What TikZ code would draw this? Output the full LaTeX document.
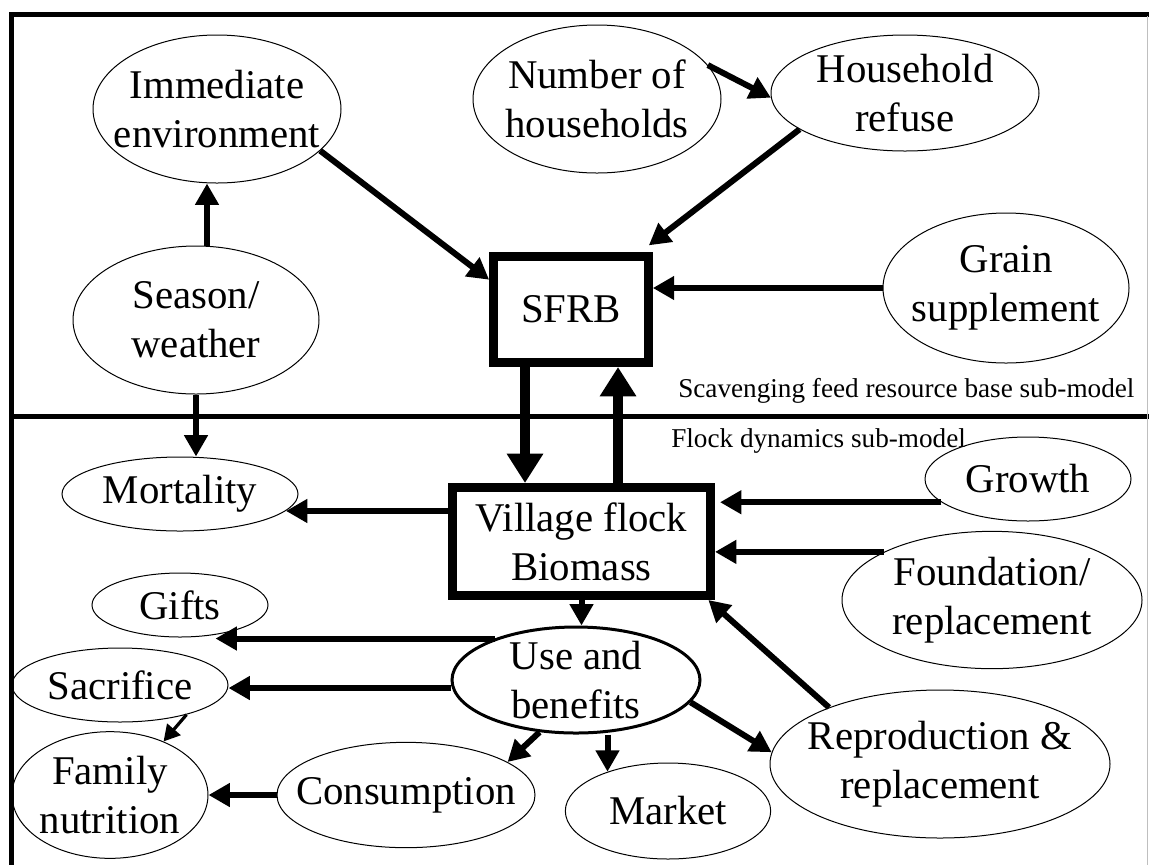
\documentclass[tikz,border=0pt]{standalone}
\usepackage{fontspec}
\setmainfont{Liberation Serif}
\usetikzlibrary{shapes.geometric,arrows.meta,calc}
\begin{document}
\begin{tikzpicture}[x=0.75pt,y=-0.75pt,
  every node/.style={font=\fontsize{30.6}{37}\selectfont, align=center, inner sep=0pt},
  ell/.style={draw, ellipse, line width=0.75pt, inner sep=-40pt},
  box/.style={draw, rectangle, line width=6.75pt},
  arr/.style={line width=4.5pt, -{Triangle[length=16pt,width=17pt]}},
  bigarr/.style={line width=7.5pt, -{Triangle[length=22pt,width=26pt]}},
  thinarr/.style={line width=2.4pt, -{Triangle[length=12pt,width=13pt]}},
  small/.style={font=\fontsize{20.4}{24}\selectfont},
  frame/.style={line width=3.75pt}
]
\useasboundingbox (0,0) rectangle (1149,865);

% frame
\draw[frame] (9.5,14) -- (1149,14);
\draw[frame] (11.5,12) -- (11.5,865);
\draw[frame] (11.5,416) -- (1149,416);
\draw[black!25, line width=0.75pt] (1147.5,16) -- (1147.5,865);

% nodes
\node[ell, minimum width=186pt, minimum height=111pt] (imm) at (217,109) {Immediate\\environment};
\node[ell, minimum width=186pt, minimum height=111pt] (num) at (597,99) {Number of\\households};
\node[ell, minimum width=201pt, minimum height=87pt] (ref) at (905,93) {Household\\refuse};
\node[ell, minimum width=184.5pt, minimum height=112.5pt] (grain) at (1006,288) {Grain\\supplement};
\node[ell, minimum width=184.5pt, minimum height=111pt] (season) at (196,320) {Season/\\weather};
\node[box, minimum width=116pt, minimum height=79.5pt] (sfrb) at (571,309.5) {SFRB};
\node[box, minimum width=193.5pt, minimum height=81pt] (village) at (581.5,541.5) {Village flock\\Biomass};
\node[ell, minimum width=177pt, minimum height=55.5pt] (mort) at (180,494) {Mortality};
\node[ell, minimum width=154.5pt, minimum height=63pt] (growth) at (1028,479) {Growth};
\node[ell, minimum width=225pt, minimum height=103pt] (found) at (992,600) {Foundation/\\replacement};
\node[ell, minimum width=132pt, minimum height=48pt] (gifts) at (180,605) {Gifts};
\node[ell, minimum width=162pt, minimum height=55.5pt] (sacr) at (120,685) {Sacrifice};
\node[ell, minimum width=147pt, minimum height=95pt] (family) at (110,795) {Family\\nutrition};
\node[ell, minimum width=193.5pt, minimum height=79pt] (cons) at (406,795) {Consumption};
\node[ell, minimum width=154pt, minimum height=72pt] (market) at (668,811) {Market};
\node[ell, line width=2.25pt, minimum width=186pt, minimum height=79.5pt] (use) at (576,680) {Use and\\benefits};
\node[ell, minimum width=255pt, minimum height=111pt] (repro) at (940,764) {Reproduction \&\\replacement};

\node[small, anchor=base west] (lab1) at (678,397) {Scavenging feed resource base sub-model};
\node[small, anchor=base west] (lab2) at (671,447) {Flock dynamics sub-model};

% connectors
\coordinate (a1) at ([xshift=8.25pt]season.north);
\draw[arr] (a1) -- (a1 |- imm.south);
\draw[arr] (season.south) -- (season.south |- mort.north);
\draw[arr] (imm.-22) -- (sfrb.160);
\draw[arr] (num.17) -- (ref.182);
\draw[arr] (ref.199) -- ([shift={(-3pt,5pt)}]sfrb.north east);
\draw[arr] (grain.west) -- (grain.west -| sfrb.east);

\coordinate (b1) at ([xshift=-34.5pt]sfrb.south);
\draw[bigarr] (b1) -- (b1 |- village.north);
\coordinate (b2) at ([xshift=27.4pt]village.north);
\draw[bigarr] (b2) -- (b2 |- sfrb.south);

\coordinate (c1) at ([yshift=22.9pt]village.west);
\draw[arr] (c1) -- (c1 -| mort.-9);
\coordinate (c2) at ([xshift=3.75pt]village.east);
\draw[arr] (growth.195) -- (growth.195 -| c2);
\draw[arr] (found.156) -- (found.156 -| village.east);
\draw[arr] (repro.153) -- ([xshift=-5pt]village.south east);
\draw[arr] (village.south) -- (village.south |- use.north);

\draw[arr] (use.153) -- (use.153 -| gifts.-40);
\coordinate (d1) at ([yshift=-2.25pt]sacr.east);
\draw[arr] (d1 -| use.west) -- (d1);
\draw[thinarr] (sacr.-24) -- (family.45);
\draw[arr] (use.235) -- (cons.18);
\draw[arr] (market.147 |- use.south) -- (market.147);
\draw[arr] (use.-11) -- (repro.176);
\draw[arr] (cons.west) -- (family.east);
\end{tikzpicture}
\end{document}
